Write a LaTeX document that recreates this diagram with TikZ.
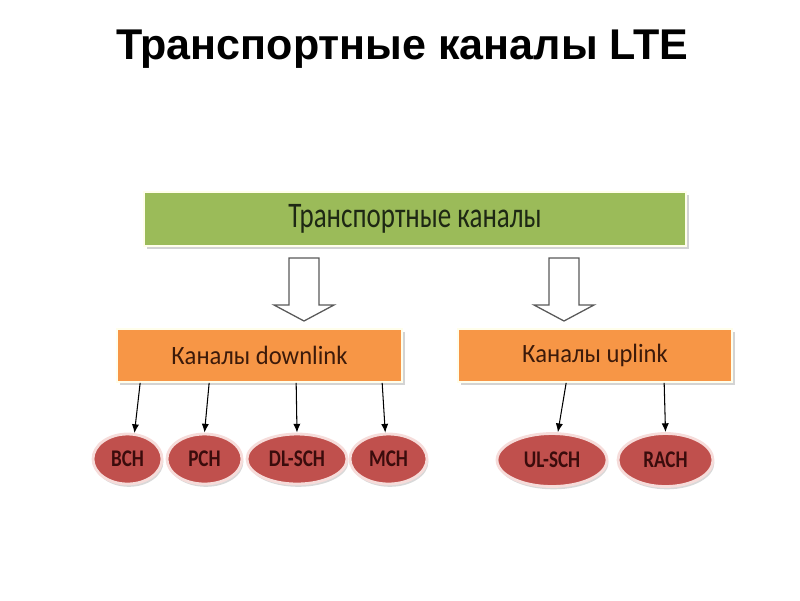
\documentclass[tikz,border=0pt]{standalone}
\usepackage{fontspec}
\setmainfont{Carlito}
\newfontfamily\titlefont{Liberation Sans}
\newfontfamily\narrowfont[FakeStretch=0.75]{Carlito}
\newfontfamily\midfont[FakeStretch=0.93]{Carlito}
\newfontfamily\chfont[FakeStretch=0.8]{Carlito}
\usetikzlibrary{shadows}
\usetikzlibrary{arrows.meta}
\usetikzlibrary{shapes.geometric}

\definecolor{boxgreen}{RGB}{155,187,89}
\definecolor{boxorange}{RGB}{247,150,70}
\definecolor{chred}{RGB}{192,80,77}
\definecolor{rimred}{RGB}{246,220,218}
\definecolor{txtgreen}{RGB}{30,40,20}
\definecolor{txtorange}{RGB}{60,26,10}
\definecolor{txtred}{RGB}{58,12,12}

\newlength\pxu
\setlength\pxu{0.025cm}

\tikzset{
  levelbox/.style={draw=white!92!yellow, line width=1.2pt, inner sep=0pt,
    drop shadow={shadow xshift=2pt, shadow yshift=-2pt, opacity=0.35}},
  channel/.style={ellipse, fill=chred, draw=rimred, line width=2pt, inner sep=0pt,
    minimum height=50\pxu, text=txtred,
    font=\chfont\bfseries\fontsize{17}{19}\selectfont,
    drop shadow={shadow xshift=1pt, shadow yshift=-2pt, opacity=0.3}},
  hollowarrow/.style={draw=black!65, line width=0.9pt, fill=white, line join=miter},
  feed/.style={-{Latex[length=2.2mm,width=1.8mm]}, line width=0.75pt}
}

\begin{document}
\begin{tikzpicture}[x=0.025cm, y=-0.025cm]
\useasboundingbox (0,0) rectangle (800,600);

\node[anchor=base, font=\titlefont\bfseries\fontsize{30.6}{36}\selectfont] (title) at (402,59) {Транспортные каналы LTE};

% top level
\node[levelbox, fill=boxgreen, minimum width=542\pxu, minimum height=54\pxu,
  text=txtgreen, font=\narrowfont\fontsize{25.6}{30}\selectfont] (trans) at (415,219) {Транспортные каналы};

\node[levelbox, fill=boxorange, minimum width=285\pxu, minimum height=53\pxu,
  text=txtorange, font=\midfont\fontsize{18.8}{22}\selectfont] (down) at (259.5,355.5) {Каналы downlink};
\node[levelbox, fill=boxorange, minimum width=274\pxu, minimum height=53\pxu,
  text=txtorange, font=\midfont\fontsize{18.8}{22}\selectfont] (up) at (595,355.5) {Каналы uplink};

% block arrows
\foreach \x in {304,564}
  \draw[hollowarrow] (\x-15,258) -- (\x+15,258) -- (\x+15,305) -- (\x+30,305)
    -- (\x,321) -- (\x-30,305) -- (\x-15,305) -- cycle;

% channels
\node[channel, minimum width=69\pxu] (bch) at (127.5,459) {BCH};
\node[channel, minimum width=75\pxu] (pch) at (204.5,459) {PCH};
\node[channel, minimum width=100\pxu] (dlsch) at (297,459) {DL-SCH};
\node[channel, minimum width=77\pxu] (mch) at (388.5,459) {MCH};
\node[channel, minimum width=110\pxu, minimum height=53\pxu] (ulsch) at (552,460) {UL-SCH};
\node[channel, minimum width=95\pxu, minimum height=53\pxu] (rach) at (665.5,460) {RACH};

\draw[feed] ([xshift=24\pxu]down.south west) -- (bch.75);
\draw[feed] ([xshift=93\pxu]down.south west) -- (pch.north);
\draw[feed] ([xshift=180\pxu]down.south west) -- (dlsch.north);
\draw[feed] ([xshift=266\pxu]down.south west) -- (mch.97);
\draw[feed] ([xshift=109\pxu]up.south west) -- (ulsch.78);
\draw[feed] ([xshift=207\pxu]up.south west) -- (rach.north);
\end{tikzpicture}
\end{document}
